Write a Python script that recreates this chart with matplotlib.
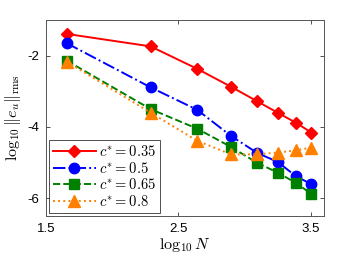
import matplotlib
matplotlib.use("Agg")
import matplotlib.pyplot as plt

plt.rcParams['mathtext.fontset'] = 'cm'
plt.rcParams['font.family'] = ['Liberation Sans', 'DejaVu Sans']

logN = [1.656, 2.29, 2.642, 2.896, 3.095, 3.249, 3.387, 3.505]
err_035 = [-1.39, -1.74, -2.37, -2.87, -3.28, -3.60, -3.88, -4.16]
err_05 = [-1.65, -2.89, -3.52, -4.25, -4.73, -4.98, -5.38, -5.61]
err_065 = [-2.14, -3.50, -4.05, -4.56, -5.01, -5.28, -5.57, -5.88]
err_08 = [-2.17, -3.60, -4.39, -4.77, -4.77, -4.72, -4.66, -4.58]
labels = [r'$c^{*}=0.35$', r'$c^{*}=0.5$', r'$c^{*}=0.65$', r'$c^{*}=0.8$']
xticks = [1.5, 2.5, 3.5]
yticks = [-2, -4, -6]
xtick_labels = ['1.5', '2.5', '3.5']
ytick_labels = ['-2', '-4', '-6']

fig = plt.figure(figsize=(3.58, 2.65), dpi=100)
ax = fig.add_axes([0.1285, 0.185, 0.7765, 0.7395])

ax.plot(logN, err_035, '-', color='#FF0000', marker='D', ms=6.5, lw=1.4, label=labels[0])
ax.plot(logN, err_05, '-.', color='#0000FF', marker='o', ms=7.5, lw=1.4, label=labels[1])
ax.plot(logN, err_065, '--', color='#008000', marker='s', ms=6.5, lw=1.4, label=labels[2])
ax.plot(logN, err_08, ':', color='#FF8000', marker='^', ms=8, lw=1.4, label=labels[3])

ax.set_xlim(1.5, 3.6)
ax.set_ylim(-6.5, -1)
ax.set_xticks(xticks)
ax.set_xticklabels(xtick_labels)
ax.set_yticks(yticks)
ax.set_yticklabels(ytick_labels)
ax.tick_params(direction='in', top=True, right=True, labelsize=9.5, length=3,
               width=0.6, color='#333333', pad=5)
for s in ax.spines.values():
    s.set_color('#555555')
    s.set_linewidth(0.7)

ax.set_xlabel(r'$\log_{10}N$', fontsize=11.5, labelpad=1)
ax.set_ylabel(r'$\log_{10}\|e_u\|_{\mathrm{rms}}$', fontsize=11.5, labelpad=3)

leg = ax.legend(loc='lower left', fontsize=10.5, frameon=True, fancybox=False,
                borderpad=0.3, labelspacing=0.1, handlelength=2.9,
                handletextpad=0.2, borderaxespad=0.2)
leg.get_frame().set_edgecolor('#222222')
leg.get_frame().set_linewidth(0.7)

fig.savefig('out.png', dpi=100)
